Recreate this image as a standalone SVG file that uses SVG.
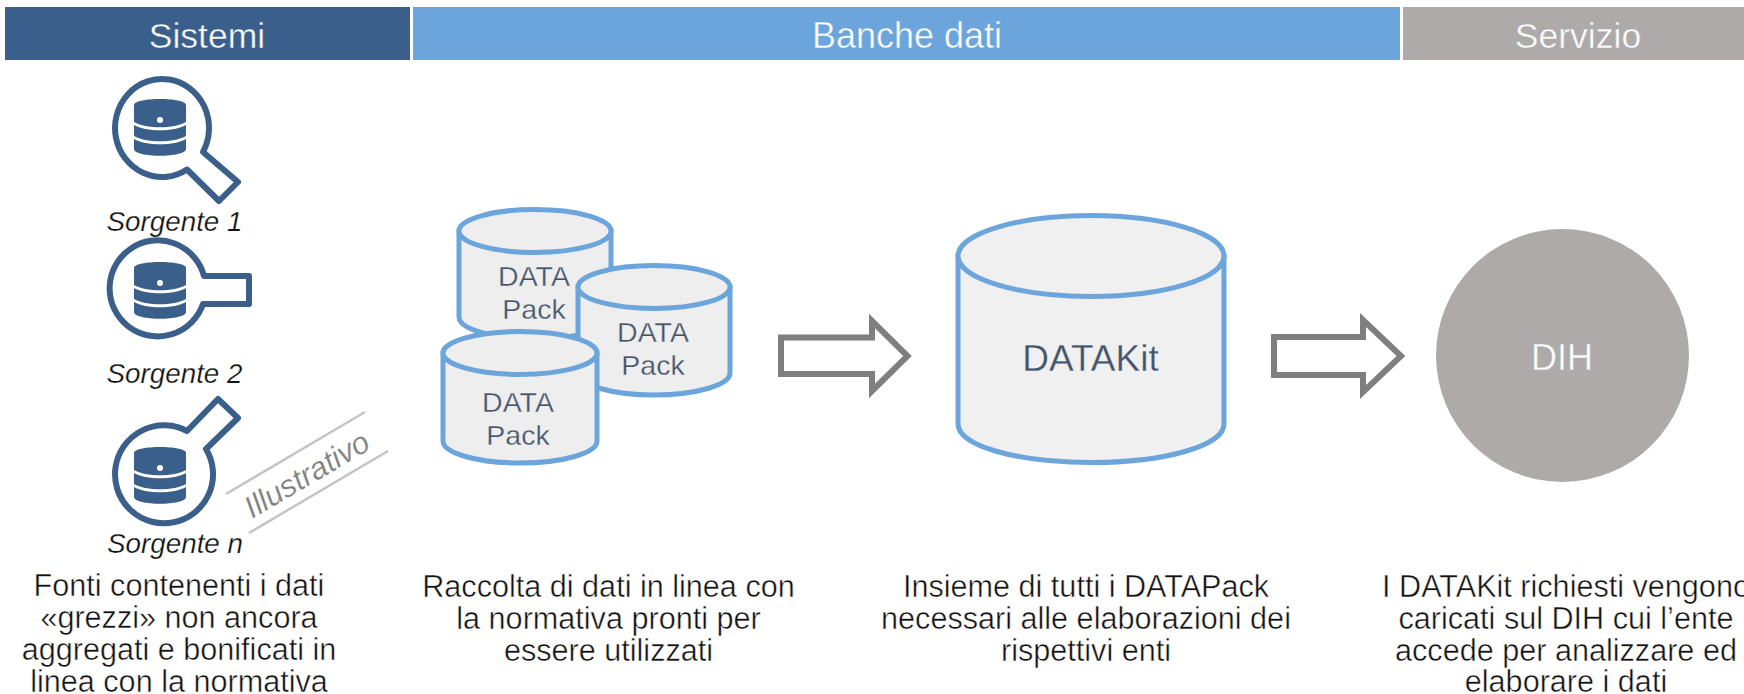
<svg xmlns="http://www.w3.org/2000/svg" width="1744" height="694" viewBox="0 0 1744 694">
<style>
text{font-family:"Liberation Sans",Arial,sans-serif;text-anchor:middle;stroke-width:.45px}
.hd{font-size:35.500px;fill:#fff}
.body{font-size:30.600px;fill:#111;stroke:#fff}
.src{font-size:27.800px;font-style:italic;fill:#111;stroke:#fff;stroke-width:.25px}
.dp{font-size:28.500px;fill:#44546a;stroke:#eee;stroke-width:.3px}
.mag{fill:#fff;stroke:#3a5f8b;stroke-width:6;stroke-linejoin:round}
.cyl{fill:#eee;stroke:#6ca5dc;stroke-width:5}
.arr{fill:#fff;stroke:#7f7f7f;stroke-width:6;stroke-miterlimit:10}
</style>
<defs>
<g id="db">
<path fill="#3a5f8b" d="M0 6C0 -2 52 -2 52 6V23C40 30 12 30 0 23Z"/>
<path fill="#3a5f8b" d="M0 26C12 33 40 33 52 26V37C40 44 12 44 0 37Z"/>
<path fill="#3a5f8b" d="M0 40C12 47 40 47 52 40V50C52 59 0 59 0 50Z"/>
<circle cx="26" cy="21" r="3" fill="#fff"/>
</g>
</defs>
<g id="header-sistemi"><rect x="5" y="7" width="405" height="53" fill="#3a5f8b"/><text class="hd" x="207" y="48" stroke="#3a5f8b">Sistemi</text></g>
<g id="header-banche"><rect x="413" y="7" width="987" height="53" fill="#6ca5dc"/><text class="hd" x="907" y="48" stroke="#6ca5dc" style="font-size:36px">Banche dati</text></g>
<g id="header-servizio"><rect x="1403" y="7" width="341" height="53" fill="#aeaaaa"/><text class="hd" x="1578" y="48" stroke="#aeaaaa">Servizio</text></g>
<g id="sorgente-1">
<path class="mag" d="M187 169.500A47 49 0 1 1 203 152L238 182L219 201Z"/>
<use href="#db" x="134" y="99"/>
<text class="src" x="174.500" y="231">Sorgente 1</text>
</g>
<g id="sorgente-2">
<path class="mag" d="M204 276A48 48 0 1 0 203 304L249 304V276Z"/>
<use href="#db" x="134" y="262"/>
<text class="src" x="174.500" y="383">Sorgente 2</text>
</g>
<g id="sorgente-n">
<path class="mag" d="M187 431A49 49 0 1 0 206 449L238 418L218 399Z"/>
<use href="#db" x="134" y="447"/>
<text class="src" x="175" y="553">Sorgente n</text>
</g>
<g id="illustrativo">
<path d="M226 494L365 412M249 533L388 451" stroke="#c4c4c4" stroke-width="2.500" fill="none"/>
<text y="10" transform="translate(307 475) rotate(-30.500)" font-size="31" font-style="italic" fill="#7f7f7f" stroke="#fff" style="stroke-width:.2px">Illustrativo</text>
</g>
<g id="datapack-1">
<path class="cyl" d="M459 231V317C459 329 493 339 535 339C577 339 611 329 611 317V231Z"/>
<ellipse class="cyl" cx="535" cy="231" rx="76" ry="21.500"/>
<text class="dp" x="534" y="286">DATA</text><text class="dp" x="534" y="319">Pack</text>
</g>
<g id="datapack-2">
<path class="cyl" d="M578 287V373C578 385 612 395 654 395C696 395 730 385 730 373V287Z"/>
<ellipse class="cyl" cx="654" cy="287" rx="76" ry="21.500"/>
<text class="dp" x="653" y="342">DATA</text><text class="dp" x="653" y="375">Pack</text>
</g>
<g id="datapack-3">
<path class="cyl" d="M443 353V441C443 453 477 463 520 463C563 463 597 453 597 441V353Z"/>
<ellipse class="cyl" cx="520" cy="353" rx="77" ry="21.500"/>
<text class="dp" x="518" y="412">DATA</text><text class="dp" x="518" y="445">Pack</text>
</g>
<g id="datakit">
<path class="cyl" style="fill:#f0f0f0" d="M958 256V424C958 446 1018 462.500 1091 462.500C1164 462.500 1224 446 1224 424V256Z"/>
<ellipse class="cyl" style="fill:#f0f0f0" cx="1091" cy="256" rx="133" ry="40.500"/>
<text x="1090.500" y="371" font-size="37" fill="#44546a" stroke="#f0f0f0" style="stroke-width:.3px">DATAKit</text>
</g>
<g id="dih">
<circle cx="1562.500" cy="355.500" r="126.500" fill="#aeaaaa"/>
<text x="1562" y="370" font-size="36" fill="#fff" stroke="#aeaaaa">DIH</text>
</g>
<g id="connectors">
<path class="arr" d="M781 337.500H872V321L907.500 356L872 391V374H781Z"/>
<path class="arr" d="M1274 337H1363V320L1401 356L1363 392V375H1274Z"/>
</g>
<g id="desc-sistemi">
<text class="body" x="179" y="596">Fonti contenenti i dati</text>
<text class="body" x="179" y="628">«grezzi» non ancora</text>
<text class="body" x="179" y="660">aggregati e bonificati in</text>
<text class="body" x="179" y="692">linea con la normativa</text>
</g>
<g id="desc-datapack">
<text class="body" x="608.500" y="597">Raccolta di dati in linea con</text>
<text class="body" x="608.500" y="629">la normativa pronti per</text>
<text class="body" x="608.500" y="661">essere utilizzati</text>
</g>
<g id="desc-datakit">
<text class="body" x="1086" y="597">Insieme di tutti i DATAPack</text>
<text class="body" x="1086" y="629">necessari alle elaborazioni dei</text>
<text class="body" x="1086" y="661">rispettivi enti</text>
</g>
<g id="desc-dih">
<text class="body" x="1566" y="597">I DATAKit richiesti vengono</text>
<text class="body" x="1566" y="629">caricati sul DIH cui l’ente</text>
<text class="body" x="1566" y="661">accede per analizzare ed</text>
<text class="body" x="1566" y="692">elaborare i dati</text>
</g>
</svg>
